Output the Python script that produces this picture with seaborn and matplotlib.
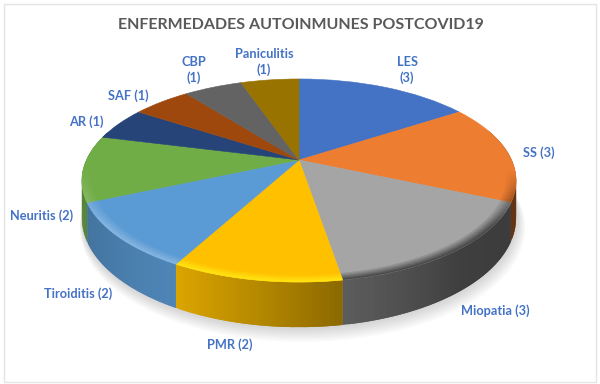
import numpy as np
import matplotlib
matplotlib.use("Agg")
import matplotlib.pyplot as plt
import matplotlib.colors as mcolors
import matplotlib.patches as mpatches
import matplotlib.transforms as mtransforms
from matplotlib.collections import PolyCollection
import seaborn as sns

# -- Data
DISEASES = ["LES", "SS", "Miopatia", "PMR", "Tiroiditis", "Neuritis", "AR", "SAF", "CBP", "Paniculitis"]
COUNTS = [3, 3, 3, 2, 2, 2, 1, 1, 1, 1]
COLORS = ["#4472C4", "#ED7D31", "#A5A5A5", "#FFC000", "#5B9BD5",
          "#70AD47", "#264478", "#9E480E", "#636363", "#997300"]
TITLE = "ENFERMEDADES AUTOINMUNES POSTCOVID19"

# -- Label layout (pixels, y down)
LABEL_POS = [(407, 70), (539, 153), (495, 311), (230, 345), (78, 294),
             (42, 216), (86, 122), (128, 96), (194, 70), (264, 62)]
LABEL_WRAP = [True, False, False, False, False, False, False, False, True, True]

# -- Perspective of the disc
W, H = 600, 384
CX, CY = 299, H - 160
A, B, K = 212.6, 97.4, 0.202
DEPTH = 36

# wall brightness against clockwise angle from the top
SHADE_ANGLE = [90, 114, 115, 140, 170, 171, 190, 208, 209, 246, 247, 300]
SHADE_VALUE = [.42, .42, .36, .38, .56, .55, .72, .86, .86, .74, .78, .72]


class Persp(mtransforms.Transform):
    input_dims = 2
    output_dims = 2
    is_separable = False
    has_inverse = False

    def transform_non_affine(self, values):
        x, y = np.asarray(values).T
        w = 1 + K * y
        return np.column_stack([CX + A * x / w, CY + B * y / w])


def project(x, y, drop=0.0):
    w = 1 + K * y
    return np.column_stack([CX + A * x / w, CY + (B * y - drop) / w])


def ring(theta, r=1.0, drop=0.0):
    t = np.radians(theta)
    return project(r * np.cos(t), r * np.sin(t), drop)


def mix(c, other, f):
    c, other = np.array(mcolors.to_rgb(c)), np.array(mcolors.to_rgb(other))
    return tuple(c * (1 - f) + other * f)


sns.set_theme(style="white")
plt.rcParams["font.family"] = ["Lato", "DejaVu Sans"]

fig = plt.figure(figsize=(W / 100, H / 100), dpi=100)
ax = fig.add_axes([0, 0, 1, 1])
palette = sns.color_palette(COLORS)

wedges, _ = ax.pie(COUNTS, colors=palette, startangle=90, counterclock=False, radius=1)
ax.set_aspect("auto")
ax.set_xlim(0, W)
ax.set_ylim(0, H)
ax.axis("off")

# chart frame
ax.add_patch(mpatches.Rectangle((3.5, H - 381.5), 592, 378, fc="white", ec="#e4e4e4", lw=1, zorder=0))

# soft shadow under the disc
circle = np.linspace(0, 360, 241)
for i in range(8):
    pts = ring(circle, r=1.0 + 0.0035 * i, drop=DEPTH + 1.2 * i)
    pts[:, 0] += 0.5 * i
    ax.fill(pts[:, 0], pts[:, 1], color="#555555", alpha=0.035, lw=0, zorder=1)

# side wall, back to front; every quad overlaps the next one to hide seams
quads, quad_colors, depths = [], [], []
for wedge, col in zip(wedges, palette):
    angles = np.linspace(wedge.theta1, wedge.theta2, 41)
    step = angles[1] - angles[0]
    for a0, a1 in zip(angles[:-1], angles[1:]):
        mid = (a0 + a1) / 2
        if np.sin(np.radians(mid)) > 0.3:
            continue
        clockwise = (90 - mid) % 360
        shade = np.interp(clockwise, SHADE_ANGLE, SHADE_VALUE)
        a2 = min(a1 + step, wedge.theta2)
        quads.append(np.vstack([ring([a0, a2]), ring([a2, a0], drop=DEPTH)]))
        quad_colors.append(mix(col, "black", 1 - shade))
        depths.append(a0)
order = np.argsort(depths)
ax.add_collection(PolyCollection([quads[i] for i in order], facecolors=[quad_colors[i] for i in order],
                                 edgecolors="none", linewidths=0, zorder=2))

# top of the disc
persp = Persp() + ax.transData
for wedge, col in zip(wedges, palette):
    wedge.set_transform(persp)
    wedge.set_zorder(3)
    wedge.set_edgecolor(col)
    wedge.set_linewidth(0.4)

# rim bevel: light on the left, dark on the right
bevel, bevel_colors = [], []
radii = np.linspace(0.955, 1.0, 6)
for wedge, col in zip(wedges, palette):
    angles = np.linspace(wedge.theta1, wedge.theta2, 31)
    for a0, a1 in zip(angles[:-1], angles[1:]):
        mid = (a0 + a1) / 2
        front = -np.sin(np.radians(mid))
        if front < 0.1:
            continue
        strength = np.clip((front - 0.1) / 0.5, 0, 1)
        clockwise = (90 - mid) % 360
        for j, (r0, r1) in enumerate(zip(radii[:-1], radii[1:])):
            f = (j + 1) / 5
            if clockwise < 171:
                c = mix(col, "black", 0.55 * f * strength)
            elif clockwise < 209:
                c = mix(col, "#fff21a", 0.7 * f * strength)
            else:
                c = mix(col, "white", 0.25 * f * strength)
            bevel.append(np.vstack([ring([a0, a1], r=r0), ring([a1, a0], r=r1)]))
            bevel_colors.append(c)
ax.add_collection(PolyCollection(bevel, facecolors=bevel_colors, edgecolors=bevel_colors, linewidths=0.3, zorder=4))

# -- Labels
for name, n, (x, y), wrap in zip(DISEASES, COUNTS, LABEL_POS, LABEL_WRAP):
    sep = "\n" if wrap else " "
    ax.text(x, H - y, f"{name}{sep}({n})", ha="center", va="center", color="#4472C4",
            fontsize=9.2, fontweight="bold", linespacing=1.4, zorder=5)

ax.text(301, H - 25, TITLE, ha="center", va="center", color="#595959",
        fontsize=11.5, fontweight="bold", zorder=5)

fig.savefig("out.png", dpi=100)
